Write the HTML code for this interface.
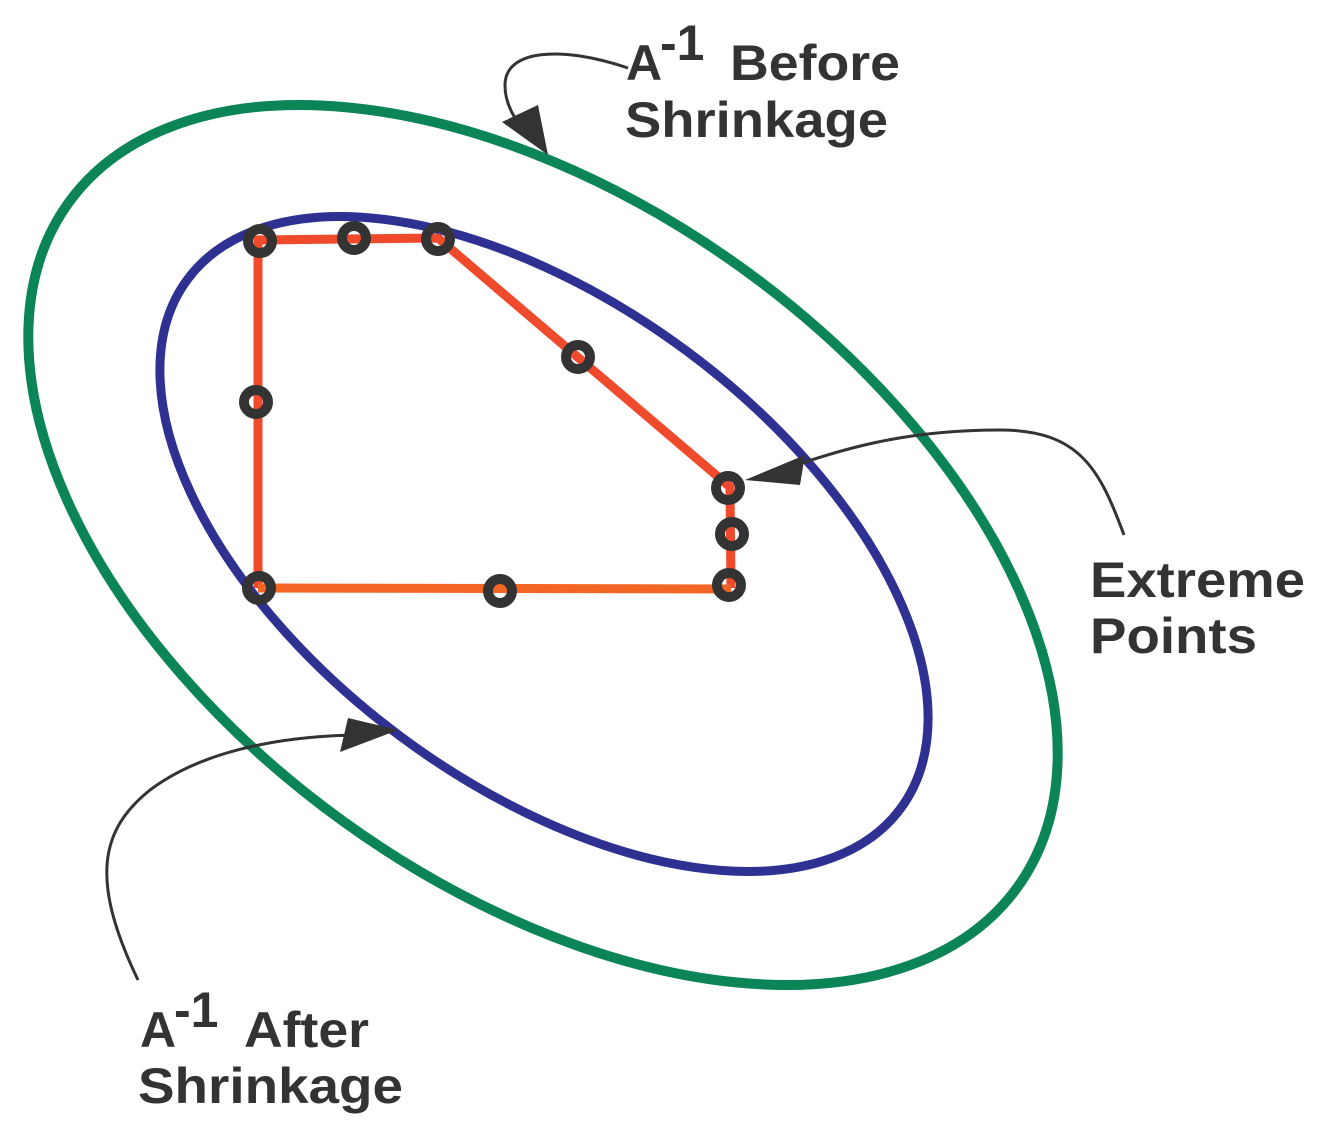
<!DOCTYPE html>
<html><head><meta charset="utf-8"><style>
html,body{margin:0;padding:0;background:#fff;}
svg{display:block;}
text{font-family:"Liberation Sans",sans-serif;font-weight:bold;fill:#333;font-size:50px;}
</style></head><body>
<svg width="1332" height="1142" viewBox="0 0 1332 1142" xmlns="http://www.w3.org/2000/svg">
<ellipse cx="543" cy="545" rx="585" ry="341" transform="rotate(35.8 543 545)" fill="none" stroke="#0b8457" stroke-width="10"/>
<ellipse cx="544" cy="544" rx="444" ry="240" transform="rotate(36.6 544 544)" fill="none" stroke="#2e3192" stroke-width="9"/>
<polyline points="258,588 258,240 438,238 730,487 731,588" fill="none" stroke="#ee4a2b" stroke-width="9"/>
<line x1="258" y1="588" x2="731" y2="589" stroke="#f26522" stroke-width="9"/>
<g fill="none" stroke="#333" stroke-width="10">
<circle cx="260" cy="241" r="12"/><circle cx="354" cy="238" r="12"/><circle cx="438" cy="239" r="12"/>
<circle cx="578" cy="357" r="12"/><circle cx="256" cy="402" r="12"/><circle cx="728" cy="488" r="12"/>
<circle cx="732" cy="534" r="12"/><circle cx="729" cy="585" r="12"/><circle cx="500" cy="591" r="12"/>
<circle cx="259" cy="588" r="12"/>
</g>
<g fill="none" stroke="#333" stroke-width="3">
<path d="M628,68 C560,45 505,50 505,85 C505,105 515,120 528,135"/>
<path d="M1124,535 C1100,470 1080,430 1000,430 C900,430 840,450 775,472"/>
<path d="M138,980 C90,880 100,830 150,790 C210,745 300,735 365,735"/>
</g>
<g fill="#333">
<polygon points="548,155 502,122 538,105"/>
<polygon points="745,480 805,455 800,485"/>
<polygon points="398,730 348,718 340,752"/>
</g>
<text x="626" y="80">A</text><text x="660" y="60" font-size="36">-1</text>
<text x="730" y="80" textLength="170" lengthAdjust="spacingAndGlyphs">Before</text>
<text x="625" y="137" textLength="263" lengthAdjust="spacingAndGlyphs">Shrinkage</text>
<text x="1090" y="597" textLength="215" lengthAdjust="spacingAndGlyphs">Extreme</text>
<text x="1090" y="653" textLength="167" lengthAdjust="spacingAndGlyphs">Points</text>
<text x="140" y="1047">A</text><text x="174" y="1027" font-size="36">-1</text>
<text x="244" y="1047" textLength="125" lengthAdjust="spacingAndGlyphs">After</text>
<text x="138" y="1103" textLength="265" lengthAdjust="spacingAndGlyphs">Shrinkage</text>
</svg>
</body></html>
